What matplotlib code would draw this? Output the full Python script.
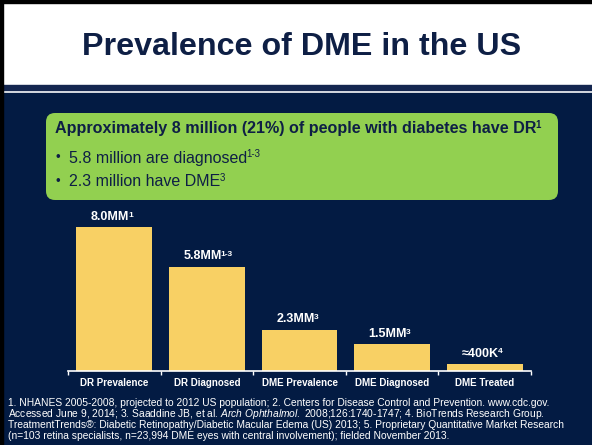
import matplotlib
matplotlib.use('Agg')
import matplotlib.pyplot as plt
from matplotlib.patches import Rectangle, FancyBboxPatch

plt.rcParams['font.family'] = ['Liberation Sans', 'DejaVu Sans']
plt.rcParams['mathtext.fontset'] = 'custom'
plt.rcParams['mathtext.it'] = 'Liberation Sans:italic'
plt.rcParams['mathtext.rm'] = 'Liberation Sans'

# data
categories = ['DR Prevalence', 'DR Diagnosed', 'DME Prevalence', 'DME Diagnosed', 'DME Treated']
values = [8.0, 5.8, 2.3, 1.5, 0.4]  # millions
bar_labels = ['8.0MM', '5.8MM', '2.3MM', '1.5MM', '\u2248400K']
bar_sups = ['1', '1-3', '3', '3', '4']

title = 'Prevalence of DME in the US'
heading = 'Approximately 8 million (21%) of people with diabetes have DR'
heading_sup = '1'
bullets = ['5.8 million are diagnosed', '2.3 million have DME']
bullet_sups = ['1-3', '3']
footnotes = [
    '1. NHANES 2005-2008, projected to 2012 US population; 2. Centers for Disease Control and Prevention. www.cdc.gov.',
    r'Accessed June 9, 2014; 3. Saaddine JB, et al. $\mathit{Arch\ Ophthalmol.}$ 2008;126:1740-1747; 4. BioTrends Research Group.',
    'TreatmentTrends\u00ae: Diabetic Retinopathy/Diabetic Macular Edema (US) 2013; 5. Proprietary Quantitative Market Research',
    '(n=103 retina specialists, n=23,994 DME eyes with central involvement); fielded November 2013.',
]

navy = '#031B43'
title_col = '#0E1F45'
green = '#92D050'
yellow = '#F8D064'

W, H = 592, 445
fig = plt.figure(figsize=(W / 100, H / 100), dpi=100)

# background layer in pixel coordinates
bg = fig.add_axes([0, 0, 1, 1])
bg.set_xlim(0, W)
bg.set_ylim(H, 0)
bg.axis('off')
bg.add_patch(Rectangle((0, 0), W, H, color='white', zorder=0))
bg.add_patch(Rectangle((0, 85), W, 5, color='#14264F', zorder=1))
bg.add_patch(Rectangle((0, 93), W, H - 93, color=navy, zorder=1))
bg.add_patch(Rectangle((0, 0), W, 2.5, color='black', zorder=2))
bg.add_patch(Rectangle((0, 0), 2.5, H, color='black', zorder=2))

bg.text(302, 47, title, ha='center', va='center', fontsize=23.2,
        fontweight='bold', color=title_col)

bg.add_patch(FancyBboxPatch((46, 113), 512, 87, boxstyle='round,pad=0,rounding_size=9',
                            facecolor=green, edgecolor='none', zorder=2))
t = bg.text(55, 129, heading, ha='left', va='center', fontsize=11.6,
            fontweight='bold', color=title_col, zorder=3)
bg.annotate(heading_sup, xy=(1, 1), xycoords=t, xytext=(-0.5, 0.8), textcoords='offset points',
            ha='left', va='top', fontsize=7, fontweight='bold', color=title_col, zorder=3)
for i, (b, s) in enumerate(zip(bullets, bullet_sups)):
    y = 158 + i * 24
    bg.text(56, y, '\u2022', ha='left', va='center', fontsize=9.5, color=title_col, zorder=3)
    t = bg.text(69, y, b, ha='left', va='center', fontsize=11.5, color=title_col, zorder=3)
    bg.annotate(s, xy=(1, 1), xycoords=t, xytext=(-0.5, 0.8), textcoords='offset points',
                ha='left', va='top', fontsize=7, color=title_col, zorder=3)

for i, line in enumerate(footnotes):
    bg.text(8, 403 + i * 11, line, ha='left', va='center', fontsize=7.4, color='white')

# bar chart
x0, x1, ybase = 68, 531, 371
px_per_unit = 18.0
ytop = 9.0
ax = fig.add_axes([x0 / W, (H - ybase) / H, (x1 - x0) / W, ytop * px_per_unit / H])
ax.set_facecolor('none')
xs = list(range(len(categories)))
bars = ax.bar(xs, values, width=0.82, color=yellow, edgecolor='none', zorder=2)
ax.set_xlim(-0.5, len(categories) - 0.5)
ax.set_ylim(0, ytop)
for sp in ['top', 'right', 'left']:
    ax.spines[sp].set_visible(False)
ax.spines['bottom'].set_color('white')
ax.spines['bottom'].set_linewidth(1.2)
ax.set_yticks([])
ax.set_xticks(xs)
ax.set_xticklabels(categories, fontsize=7, fontweight='bold', color='white')
ax.tick_params(axis='x', which='major', length=0, pad=5)
ax.set_xticks([i - 0.5 for i in range(len(categories) + 1)], minor=True)
ax.tick_params(axis='x', which='minor', length=3, color='white', direction='out', width=1)

for rect, lab, sup in zip(bars, bar_labels, bar_sups):
    cx = rect.get_x() + rect.get_width() / 2
    t = ax.annotate(lab, xy=(cx, rect.get_height()), xytext=(-3, 3),
                    textcoords='offset points', ha='center', va='bottom',
                    fontsize=9, fontweight='bold', color='white', annotation_clip=False)
    ax.annotate(sup, xy=(1, 1), xycoords=t, xytext=(-0.8, -0.5), textcoords='offset points',
                ha='left', va='top', fontsize=6, fontweight='bold', color='white',
                annotation_clip=False)

fig.savefig('out.png', dpi=100)
